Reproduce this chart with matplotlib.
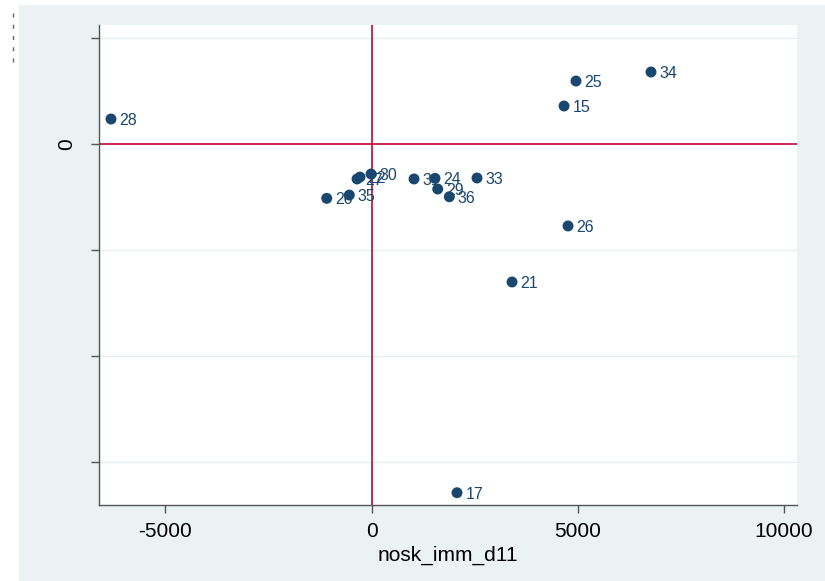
import matplotlib
matplotlib.use("Agg")
import matplotlib.pyplot as plt
from matplotlib.patches import Rectangle
from matplotlib.lines import Line2D

plt.rcParams['font.family'] = ['Liberation Sans', 'DejaVu Sans']

# Point labels and coordinates
labels = ['28', '34', '25', '15', '30', '27', '22', '31', '24', '29',
          '36', '33', '20', '35', '26', '21', '17']
x_vals = [-6317, 6777, 4958, 4668, -12, -351, -279, 1031, 1540, 1605,
          1887, 2558, -1086, -538, 4765, 3407, 2073]
y_vals = [0.236, 0.680, 0.595, 0.359, -0.283, -0.330, -0.312, -0.330, -0.324, -0.425,
          -0.498, -0.321, -0.513, -0.482, -0.774, -1.303, -3.293]

x_ticks = [-5000, 0, 5000, 10000]
x_ticklabels = ['-5000', '0', '5000', '10000']
y_ticks = [1, 0, -1, -2, -3]
y_ticklabels = ['', '0', '', '', '']

navy = '#1a476f'
red = '#c10534'
bg = '#eaf2f3'

fig = plt.figure(figsize=(8.25, 5.81), dpi=100)
fig.patch.set_facecolor('white')
fig.add_artist(Rectangle((19 / 825, 0), 1, 1 - 5 / 581, transform=fig.transFigure,
                         facecolor=bg, edgecolor='none', zorder=-10))

# clipped y title marks at the top-left corner
fig.add_artist(Line2D([13 / 825, 13 / 825], [1 - 13 / 581, 1 - 64 / 581],
                      color='#666666', lw=1.0, linestyle=(0, (2.9, 5.2))))

ax = fig.add_axes([98.5 / 825, 1 - 505 / 581, (796.5 - 98.5) / 825, (505 - 25) / 581])
ax.set_facecolor('white')
ax.set_zorder(1)

ax.set_xlim(-6620, 10305)
ax.set_ylim(-3.409, 1.124)

for yv in y_ticks:
    if yv != 0:
        ax.axhline(yv, color='#e8eff1', lw=1.0, zorder=1)

ax.axvline(0, color=red, lw=1.2, zorder=2)
ax.axhline(0, color=red, lw=1.2, zorder=2)

ax.scatter(x_vals, y_vals, s=62, color=navy, edgecolors='none', zorder=3)
for lab, xv, yv in zip(labels, x_vals, y_vals):
    ax.annotate(lab, (xv, yv), xytext=(6, -1), textcoords='offset points',
                ha='left', va='center', fontsize=11.5, color=navy, zorder=4)

ax.set_xticks(x_ticks)
ax.set_xticklabels(x_ticklabels, fontsize=15)
ax.set_yticks(y_ticks)
ax.set_yticklabels(y_ticklabels, fontsize=15, rotation=90, va='center')
ax.tick_params(axis='both', direction='out', length=6, width=1, color='#555555', pad=6)
ax.tick_params(axis='y', pad=10)

ax.set_xlabel('nosk_imm_d11', fontsize=15, labelpad=4)

for side in ['top', 'right']:
    ax.spines[side].set_visible(False)
for side in ['left', 'bottom']:
    ax.spines[side].set_color('#555555')
    ax.spines[side].set_linewidth(1.0)

fig.savefig('out.png', dpi=100)
